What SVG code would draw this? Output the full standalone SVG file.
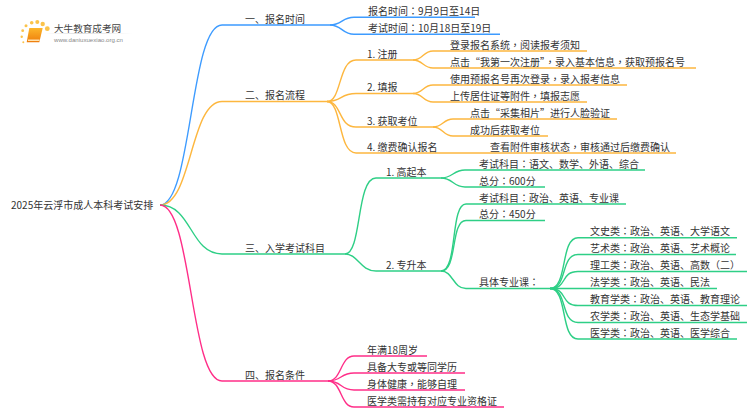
<svg xmlns="http://www.w3.org/2000/svg" width="750" height="410" viewBox="0 0 750 410">
<defs><linearGradient id="bk" x1="0" y1="0" x2="0" y2="1"><stop offset="0" stop-color="#fdb62a"/><stop offset="1" stop-color="#ee7d0c"/></linearGradient>
<linearGradient id="ln"><stop offset="0" stop-color="#ddd" stop-opacity="0"/><stop offset=".4" stop-color="#ddd"/><stop offset="1" stop-color="#ddd" stop-opacity="0"/></linearGradient></defs>
<style>
text{font-family:"Noto Sans CJK SC","DejaVu Sans",sans-serif;font-size:10px;fill:#333;transform:translateY(.5px)}
tspan{font-family:"Noto Sans CJK TC","Noto Sans CJK SC",sans-serif}
.c{fill:none;stroke-width:1.4}
.b{stroke:#3d9bff}.o{stroke:#fdb73f}.g{stroke:#2ecf86}.p{stroke:#ff2e88}
.d{fill:#fbc34a}
</style>
<rect width="750" height="410" fill="#fff"/>
<g id="connectors">
<g>
<path class="c b" d="M160 205C192 205 190 25 222 25H330"/>
<path class="c b" d="M330 25C342 25 342 17.300 354 17.300H475"/>
<path class="c b" d="M330 25C342 25 342 34.300 354 34.300H500"/>
</g>
<g>
<path class="c o" d="M160 205C192 205 190 101.500 222 101.500H327"/>
<path class="c o" d="M327 101.500C342 101.500 338 60 356 60H413"/>
<path class="c o" d="M327 101.500C342 101.500 340 93.500 356 93.500H413"/>
<path class="c o" d="M327 101.500C342 101.500 338 127 356 127H433"/>
<path class="c o" d="M327 101.500C342 101.500 338 153 356 153H676"/>
<path class="c o" d="M413 60C423 60 423 51 433 51H587"/>
<path class="c o" d="M413 60C423 60 423 68 433 68H696"/>
<path class="c o" d="M413 93.500C423 93.500 423 85 433 85H627"/>
<path class="c o" d="M413 93.500C423 93.500 423 102 433 102H587"/>
<path class="c o" d="M433 127C443 127 443 119 453 119H617"/>
<path class="c o" d="M433 127C443 127 443 136 453 136H548"/>
</g>
<g>
<path class="c g" d="M160 205C192 205 190 254 222 254H345"/>
<path class="c g" d="M345 254C362 254 356 178 376 178H441"/>
<path class="c g" d="M345 254C358 254 360 271 376 271H441"/>
<path class="c g" d="M441 178C453 178 453 170 465 170H645"/>
<path class="c g" d="M441 178C453 178 453 187 465 187H545"/>
<path class="c g" d="M441 271C458 271 450 204 466 204H626"/>
<path class="c g" d="M441 271C458 271 450 220.500 466 220.500H545"/>
<path class="c g" d="M441 271C453 271 453 288.500 466 288.500H550"/>
<path class="c g" d="M550 288.500C568 288.500 560 237.700 578 237.700H737"/>
<path class="c g" d="M550 288.500C568 288.500 560 254.500 578 254.500H736"/>
<path class="c g" d="M550 288.500C568 288.500 560 271.500 578 271.500H747"/>
<path class="c g" d="M550 288.500H717"/>
<path class="c g" d="M550 288.500C568 288.500 560 305.500 578 305.500H747"/>
<path class="c g" d="M550 288.500C568 288.500 560 322.500 578 322.500H747"/>
<path class="c g" d="M550 288.500C568 288.500 560 339 578 339H737"/>
</g>
<g>
<path class="c p" d="M160 205C192 205 190 381 222 381H328"/>
<path class="c p" d="M328 381C342 381 340 356 354 356H427"/>
<path class="c p" d="M328 381C342 381 340 373 354 373H465"/>
<path class="c p" d="M328 381C342 381 340 390 354 390H465"/>
<path class="c p" d="M328 381C342 381 340 407 354 407H504"/>
</g>
</g>
<g id="logo">
<circle class="d" cx="23.300" cy="42.300" r="1"/><circle class="d" cx="21.700" cy="36.700" r="1.200"/><circle class="d" cx="22.700" cy="30.700" r="1.400"/><circle class="d" cx="26" cy="25.700" r="1.500"/><circle class="d" cx="31.700" cy="22.700" r="1.800"/><circle class="d" cx="37.300" cy="22" r="2"/><circle class="d" cx="42.700" cy="24" r="2.200"/><circle class="d" cx="47.300" cy="28.700" r="2.400"/>
<path d="M29.300 28H42.700L39.300 42.300H26.700Z" fill="url(#bk)"/>
<path d="M28 39.500H39.500V41H28Z" fill="#ffe3b0"/>
<rect x="45" y="33" width="88" height="1" fill="url(#ln)"/>
<text x="54" y="31" style="font-size:9.600px;fill:#444">大牛教育成考网</text>
<text x="54" y="41" textLength="69" lengthAdjust="spacingAndGlyphs" style="font-family:'Liberation Sans',sans-serif;font-size:6px;fill:#888">www.daniuxuexiao.org.cn</text>
</g>
<g id="root"><text x="11" y="208.500">2025年云浮市成人本科考试安排</text></g>
<g id="n1"><text x="245" y="22">一、报名时间</text></g>
<g id="n11"><text x="368" y="14">报名时间<tspan>：</tspan>9月9日至14日</text></g>
<g id="n12"><text x="368" y="31">考试时间<tspan>：</tspan>10月18日至19日</text></g>
<g id="n2"><text x="245" y="98.500">二、报名流程</text></g>
<g id="n21"><text x="367" y="57">1. 注册</text></g>
<g id="n211"><text x="450" y="48">登录报名系统<tspan>，</tspan>阅读报考须知</text></g>
<g id="n212"><text x="450" y="65">点击“我第一次注册”<tspan>，</tspan>录入基本信息<tspan>，</tspan>获取预报名号</text></g>
<g id="n22"><text x="367" y="90.500">2. 填报</text></g>
<g id="n221"><text x="450" y="82">使用预报名号再次登录<tspan>，</tspan>录入报考信息</text></g>
<g id="n222"><text x="450" y="99">上传居住证等附件<tspan>，</tspan>填报志愿</text></g>
<g id="n23"><text x="367" y="124">3. 获取考位</text></g>
<g id="n231"><text x="470" y="116">点击“采集相片”进行人脸验证</text></g>
<g id="n232"><text x="470" y="133">成功后获取考位</text></g>
<g id="n24"><text x="367" y="150">4. 缴费确认报名</text></g>
<g id="n241"><text x="490" y="150">查看附件审核状态<tspan>，</tspan>审核通过后缴费确认</text></g>
<g id="n3"><text x="245" y="251">三、入学考试科目</text></g>
<g id="n31"><text x="386" y="175">1. 高起本</text></g>
<g id="n311"><text x="479" y="167">考试科目<tspan>：</tspan>语文、数学、外语、综合</text></g>
<g id="n312"><text x="479" y="184">总分<tspan>：</tspan>600分</text></g>
<g id="n32"><text x="386" y="268">2. 专升本</text></g>
<g id="n321"><text x="479" y="201">考试科目<tspan>：</tspan>政治、英语、专业课</text></g>
<g id="n322"><text x="479" y="217.500">总分<tspan>：</tspan>450分</text></g>
<g id="n323"><text x="479" y="285.500">具体专业课<tspan>：</tspan></text></g>
<g id="n3231"><text x="590" y="234.500">文史类<tspan>：</tspan>政治、英语、大学语文</text></g>
<g id="n3232"><text x="590" y="251.500">艺术类<tspan>：</tspan>政治、英语、艺术概论</text></g>
<g id="n3233"><text x="590" y="268.500">理工类<tspan>：</tspan>政治、英语、高数<tspan>（</tspan>二<tspan>）</tspan></text></g>
<g id="n3234"><text x="590" y="285.500">法学类<tspan>：</tspan>政治、英语、民法</text></g>
<g id="n3235"><text x="590" y="302">教育学类<tspan>：</tspan>政治、英语、教育理论</text></g>
<g id="n3236"><text x="590" y="319.500">农学类<tspan>：</tspan>政治、英语、生态学基础</text></g>
<g id="n3237"><text x="590" y="336">医学类<tspan>：</tspan>政治、英语、医学综合</text></g>
<g id="n4"><text x="245" y="378">四、报名条件</text></g>
<g id="n41"><text x="367" y="353">年满18周岁</text></g>
<g id="n42"><text x="367" y="370">具备大专或等同学历</text></g>
<g id="n43"><text x="367" y="387">身体健康<tspan>，</tspan>能够自理</text></g>
<g id="n44"><text x="367" y="404">医学类需持有对应专业资格证</text></g>
</svg>
